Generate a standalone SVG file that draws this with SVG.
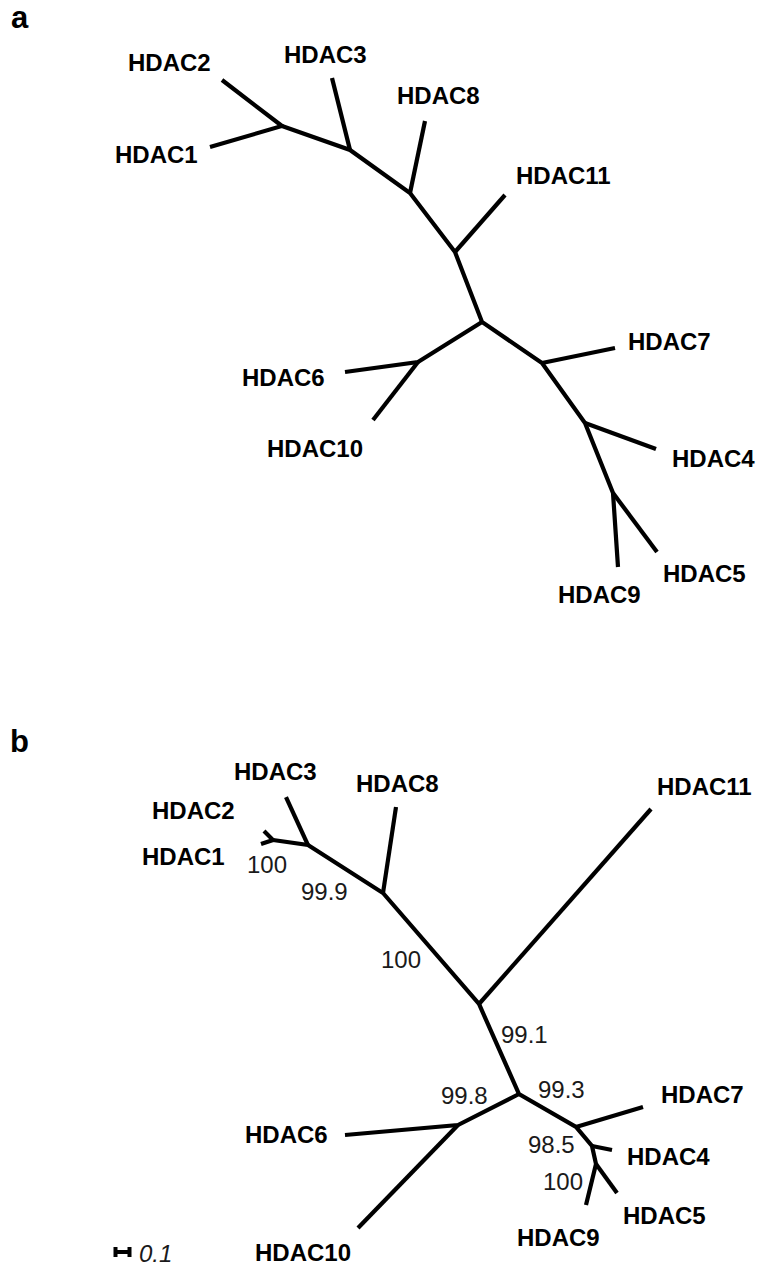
<svg xmlns="http://www.w3.org/2000/svg" width="763" height="1266" viewBox="0 0 763 1266">
<style>
.lbl{font-family:"Liberation Sans",Arial,sans-serif;font-weight:bold;font-size:24px;fill:#000}
.panel{font-family:"Liberation Sans",Arial,sans-serif;font-weight:bold;font-size:31px;fill:#000}
.bs{font-family:"Liberation Sans",Arial,sans-serif;font-size:24px;fill:#1a1a1a}
.br{stroke:#000;stroke-width:4.2;fill:none;stroke-linecap:butt;stroke-linejoin:miter}
</style>
<rect width="763" height="1266" fill="#fff"/>
<text class="panel" x="11" y="28">a</text>
<text class="panel" x="10" y="752">b</text>
<g id="connectors">
<g id="tree-a">
<polyline class="br" points="222,80 282,126 210,147"/>
<polyline class="br" points="282,126 350,150 410,193 455,252 482,322 542,363 585,423 613,493 618,567"/>
<line class="br" x1="332" y1="78" x2="350" y2="150"/>
<line class="br" x1="425" y1="121" x2="410" y2="193"/>
<line class="br" x1="505" y1="195" x2="455" y2="252"/>
<polyline class="br" points="482,322 418,362 345,372"/>
<line class="br" x1="418" y1="362" x2="373" y2="420"/>
<line class="br" x1="542" y1="363" x2="615" y2="348"/>
<line class="br" x1="585" y1="423" x2="656" y2="449"/>
<line class="br" x1="613" y1="493" x2="657" y2="552"/>
</g>
<g id="tree-b">
<polyline class="br" points="264,831 273,840 261,844"/>
<polyline class="br" points="273,840 308,845 383,893 479,1004 519,1094 576,1127 592,1146 596,1164 586,1205"/>
<line class="br" x1="286" y1="797" x2="308" y2="845"/>
<line class="br" x1="396" y1="807" x2="383" y2="893"/>
<line class="br" x1="651" y1="809" x2="479" y2="1004"/>
<polyline class="br" points="519,1094 458,1125 345,1135"/>
<line class="br" x1="458" y1="1125" x2="358" y2="1228"/>
<line class="br" x1="576" y1="1127" x2="643" y2="1107"/>
<line class="br" x1="592" y1="1146" x2="612" y2="1150"/>
<line class="br" x1="596" y1="1164" x2="617" y2="1193"/>
</g>
</g>
<g id="a-HDAC2"><text class="lbl" x="128" y="71">HDAC2</text></g>
<g id="a-HDAC1"><text class="lbl" x="115" y="163">HDAC1</text></g>
<g id="a-HDAC3"><text class="lbl" x="284" y="63">HDAC3</text></g>
<g id="a-HDAC8"><text class="lbl" x="397" y="104">HDAC8</text></g>
<g id="a-HDAC11"><text class="lbl" x="516" y="184">HDAC11</text></g>
<g id="a-HDAC7"><text class="lbl" x="628" y="350">HDAC7</text></g>
<g id="a-HDAC6"><text class="lbl" x="242" y="386">HDAC6</text></g>
<g id="a-HDAC10"><text class="lbl" x="267" y="457">HDAC10</text></g>
<g id="a-HDAC4"><text class="lbl" x="672" y="467">HDAC4</text></g>
<g id="a-HDAC5"><text class="lbl" x="663" y="582">HDAC5</text></g>
<g id="a-HDAC9"><text class="lbl" x="558" y="603">HDAC9</text></g>
<g id="b-HDAC3"><text class="lbl" x="234" y="780">HDAC3</text></g>
<g id="b-HDAC8"><text class="lbl" x="356" y="792">HDAC8</text></g>
<g id="b-HDAC2"><text class="lbl" x="152" y="819">HDAC2</text></g>
<g id="b-HDAC1"><text class="lbl" x="142" y="865">HDAC1</text></g>
<g id="b-HDAC11"><text class="lbl" x="657" y="795">HDAC11</text></g>
<g id="b-HDAC7"><text class="lbl" x="661" y="1103">HDAC7</text></g>
<g id="b-HDAC6"><text class="lbl" x="245" y="1143">HDAC6</text></g>
<g id="b-HDAC4"><text class="lbl" x="627" y="1165">HDAC4</text></g>
<g id="b-HDAC5"><text class="lbl" x="623" y="1224">HDAC5</text></g>
<g id="b-HDAC9"><text class="lbl" x="517" y="1246">HDAC9</text></g>
<g id="b-HDAC10"><text class="lbl" x="255" y="1261">HDAC10</text></g>
<g id="bootstrap">
<text class="bs" x="247" y="873">100</text>
<text class="bs" x="301" y="900">99.9</text>
<text class="bs" x="381" y="968">100</text>
<text class="bs" x="501" y="1043">99.1</text>
<text class="bs" x="441" y="1104">99.8</text>
<text class="bs" x="538" y="1098">99.3</text>
<text class="bs" x="528" y="1153">98.5</text>
<text class="bs" x="543" y="1190">100</text>
</g>
<g id="scale">
<path d="M114,1252H131M115.5,1247V1257M129.5,1247V1257" stroke="#000" stroke-width="4" fill="none"/>
<text x="139" y="1262" font-family="Liberation Sans,Arial,sans-serif" font-style="italic" font-size="24" fill="#1a1a1a">0.1</text>
</g>
</svg>
